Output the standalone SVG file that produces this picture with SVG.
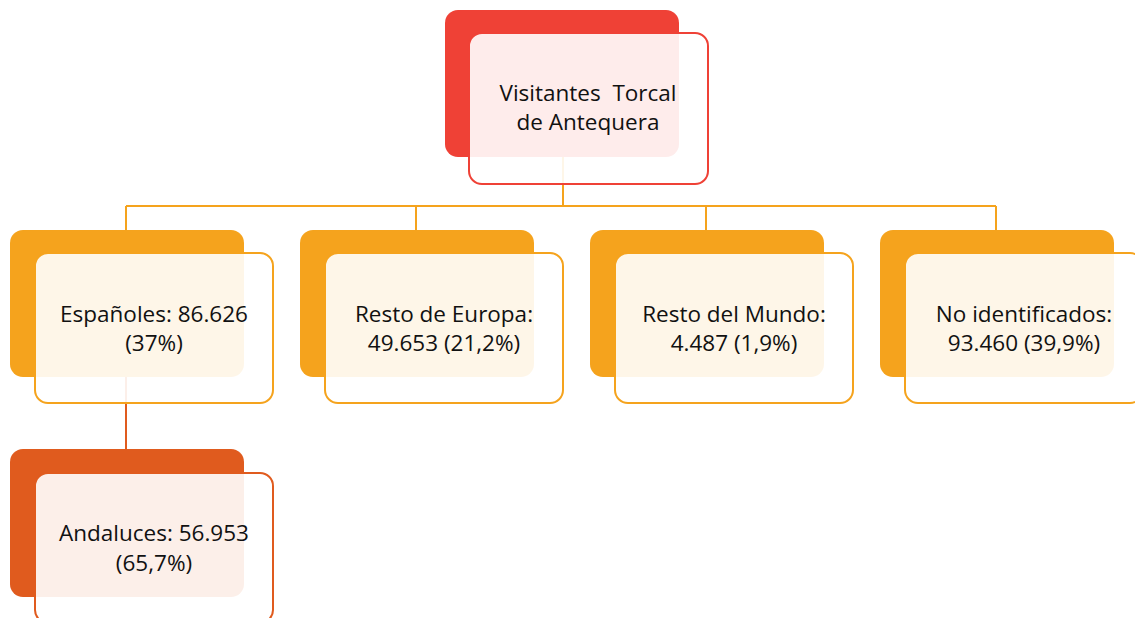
<svg xmlns="http://www.w3.org/2000/svg" width="1135" height="618" viewBox="0 0 1135 618">
<style>
.t{font-family:"Open Sans","Noto Sans",sans-serif;font-size:22.5px;fill:#111;text-anchor:middle}
.front{fill:#fff;fill-opacity:0.9;stroke-width:2}
.red .back{fill:#EF4136}.red .front{stroke:#EF4136}
.org .back{fill:#F5A31D}.org .front{stroke:#F5A31D}
.dor .back{fill:#E05B1E}.dor .front{stroke:#E05B1E}
</style>
<rect width="1135" height="618" fill="#fff"/>
<g id="connectors" fill="none" stroke-width="2">
<path d="M563 157V206M126 206H996M126 206V230M416 206V230M706 206V230M996 206V230" stroke="#F5A31D"/>
<path d="M126 377V449" stroke="#E05B1E"/>
</g>
<g id="n-top" class="red">
<rect class="back" x="445" y="10" width="234" height="147" rx="13"/>
<rect class="front" x="469" y="33" width="239" height="151" rx="13"/>
<text class="t" x="588" y="101" xml:space="preserve">Visitantes  Torcal</text>
<text class="t" x="588" y="130">de Antequera</text>
</g>
<g id="n-esp" class="org">
<rect class="back" x="10" y="230" width="234" height="147" rx="13"/>
<rect class="front" x="35" y="253" width="238" height="150" rx="13"/>
<text class="t" x="154" y="322">Españoles: 86.626</text>
<text class="t" x="154" y="351">(37%)</text>
</g>
<g id="n-eur" class="org">
<rect class="back" x="300" y="230" width="234" height="147" rx="13"/>
<rect class="front" x="325" y="253" width="238" height="150" rx="13"/>
<text class="t" x="444" y="322">Resto de Europa:</text>
<text class="t" x="444" y="351">49.653 (21,2%)</text>
</g>
<g id="n-mun" class="org">
<rect class="back" x="590" y="230" width="234" height="147" rx="13"/>
<rect class="front" x="615" y="253" width="238" height="150" rx="13"/>
<text class="t" x="734" y="322">Resto del Mundo:</text>
<text class="t" x="734" y="351">4.487 (1,9%)</text>
</g>
<g id="n-noid" class="org">
<rect class="back" x="880" y="230" width="234" height="147" rx="13"/>
<rect class="front" x="905" y="253" width="238" height="150" rx="13"/>
<text class="t" x="1024" y="322">No identificados:</text>
<text class="t" x="1024" y="351">93.460 (39,9%)</text>
</g>
<g id="n-and" class="dor">
<rect class="back" x="10" y="449" width="234" height="148" rx="13"/>
<rect class="front" x="35" y="473" width="238" height="150" rx="13"/>
<text class="t" x="154" y="541">Andaluces: 56.953</text>
<text class="t" x="154" y="571">(65,7%)</text>
</g>
</svg>
